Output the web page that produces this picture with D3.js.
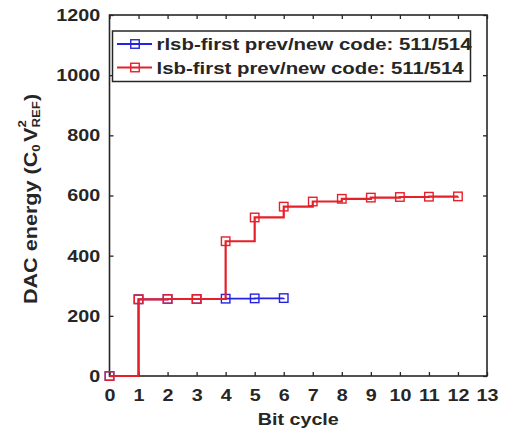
<!DOCTYPE html>
<html>
<head>
<meta charset="utf-8">
<script src="https://cdn.jsdelivr.net/npm/d3@7"></script>
<style>
  body { margin: 0; background: #fff; }
  svg { display: block; }
  text { font-family: Arial, "Liberation Sans", Helvetica, sans-serif; font-weight: bold; fill: #262626; }
</style>
</head>
<body>
<svg id="chart" width="506" height="430"></svg>
<script>
// values
const bitCycles = [0, 1, 2, 3, 4, 5, 6, 7, 8, 9, 10, 11, 12];
const lsbFirstEnergy = [0, 255, 256, 256, 448, 527, 563, 580, 589, 593, 595, 596, 597];
const rlsbFirstEnergy = [0, 255, 256, 256, 257, 258, 259];
const xTickValues = [0, 1, 2, 3, 4, 5, 6, 7, 8, 9, 10, 11, 12, 13];
const yTickValues = [0, 200, 400, 600, 800, 1000, 1200];
const legendLabels = ["rlsb-first prev/new code: 511/514", "lsb-first prev/new code: 511/514"];

const svg = d3.select("#chart");
const plotLeft = 109.5, plotRight = 487, plotTop = 15, plotBottom = 376;
const stretch = 1.16; // text in the picture is a bit wide
const axisColor = "#262626";

const x = d3.scaleLinear().domain([0, 13]).range([plotLeft, plotRight]);
const y = d3.scaleLinear().domain([0, 1200]).range([plotBottom, plotTop]);

// ticks on all four sides, pointing inwards
const styleAxis = g => {
    g.select(".domain").remove();
    g.selectAll(".tick line").attr("stroke", axisColor).attr("stroke-width", 1.3);
};

svg.append("g")
    .attr("transform", `translate(0,${plotBottom})`)
    .call(d3.axisBottom(x).tickValues(xTickValues).tickFormat(d3.format("d"))
        .tickSizeInner(-4).tickSizeOuter(0).tickPadding(13))
    .call(styleAxis)
    .call(g => g.selectAll(".tick text")
        .attr("font-size", 17).attr("fill", axisColor)
        .attr("transform", `scale(${stretch},1)`));

svg.append("g")
    .attr("transform", `translate(${plotLeft},0)`)
    .call(d3.axisLeft(y).tickValues(yTickValues).tickFormat(d3.format("d"))
        .tickSizeInner(-4).tickSizeOuter(0).tickPadding(8))
    .call(styleAxis)
    .call(g => g.selectAll(".tick text")
        .attr("font-size", 17).attr("fill", axisColor)
        .attr("transform", `scale(${stretch},1)`));

svg.append("g")
    .attr("transform", `translate(0,${plotTop})`)
    .call(d3.axisTop(x).tickValues(xTickValues).tickFormat("").tickSizeInner(-4).tickSizeOuter(0))
    .call(styleAxis);

svg.append("g")
    .attr("transform", `translate(${plotRight},0)`)
    .call(d3.axisRight(y).tickValues(yTickValues).tickFormat("").tickSizeInner(-4).tickSizeOuter(0))
    .call(styleAxis);

svg.append("rect")
    .attr("x", plotLeft).attr("y", plotTop)
    .attr("width", plotRight - plotLeft).attr("height", plotBottom - plotTop)
    .attr("fill", "none").attr("stroke", axisColor).attr("stroke-width", 1.6);

// series, blue under red
const series = [
    { name: legendLabels[0], values: rlsbFirstEnergy, color: "#2424e0", width: 1.8 },
    { name: legendLabels[1], values: lsbFirstEnergy, color: "#e6202a", width: 2.2 }
];

const stairs = d3.line()
    .x(d => x(d[0]))
    .y(d => y(d[1]))
    .curve(d3.curveStepAfter);

const markerSize = 8.5;

series.forEach(s => {
    const pts = s.values.map((v, i) => [bitCycles[i], v]);
    svg.append("path")
        .datum(pts)
        .attr("d", stairs)
        .attr("fill", "none")
        .attr("stroke", s.color)
        .attr("stroke-width", s.width);
    svg.append("g")
        .selectAll("rect")
        .data(pts)
        .join("rect")
        .attr("x", d => x(d[0]) - markerSize / 2)
        .attr("y", d => y(d[1]) - markerSize / 2)
        .attr("width", markerSize).attr("height", markerSize)
        .attr("fill", "none")
        .attr("stroke", s.color)
        .attr("stroke-width", 1.4);
});

// axis titles
svg.append("text")
    .attr("transform", `translate(${(plotLeft + plotRight) / 2},425) scale(${stretch},1)`)
    .attr("text-anchor", "middle")
    .attr("font-size", 17)
    .text("Bit cycle");

const yLabel = svg.append("text")
    .attr("transform", "translate(37,199) rotate(-90) scale(1.2,1)")
    .attr("text-anchor", "middle")
    .attr("font-size", 18);
yLabel.append("tspan").text("DAC energy (C");
yLabel.append("tspan").attr("font-size", 11).attr("dy", 3).text("0");
yLabel.append("tspan").attr("dx", 2).attr("dy", -3).text("V");
yLabel.append("tspan").attr("font-size", 11).attr("dy", -11).text("2");
yLabel.append("tspan").attr("font-size", 11).attr("dx", -6).attr("dy", 14).text("REF");
yLabel.append("tspan").attr("dy", -3).text(")");

// legend
const legend = svg.append("g");
legend.append("rect")
    .attr("x", 112.5).attr("y", 31)
    .attr("width", 358).attr("height", 50.5)
    .attr("fill", "#fff")
    .attr("stroke", axisColor).attr("stroke-width", 1.5);

const rowY = [44, 67.5];
series.forEach((s, i) => {
    const row = legend.append("g").attr("transform", `translate(0,${rowY[i]})`);
    row.append("line")
        .attr("x1", 117).attr("x2", 152)
        .attr("stroke", s.color).attr("stroke-width", s.width);
    row.append("rect")
        .attr("x", 135 - markerSize / 2).attr("y", -markerSize / 2)
        .attr("width", markerSize).attr("height", markerSize)
        .attr("fill", "none").attr("stroke", s.color).attr("stroke-width", 1.4);
    row.append("text")
        .attr("transform", `translate(156.5,0) scale(1.2,1)`)
        .attr("dy", "0.36em")
        .attr("font-size", 17)
        .text(s.name);
});
</script>
</body>
</html>
